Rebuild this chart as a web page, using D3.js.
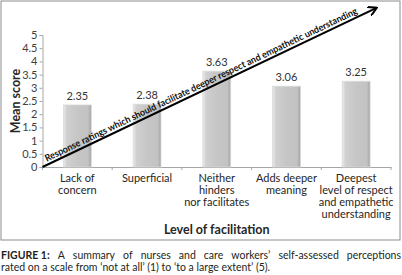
<!DOCTYPE html>
<html><head><meta charset="utf-8">
<script src="https://cdn.jsdelivr.net/npm/d3@7"></script>
<style>
html,body{margin:0;padding:0;background:#fff;}
svg{display:block;}
text{font-family:Lato,"Open Sans",sans-serif;}
</style></head>
<body><svg id="c" width="402" height="275"></svg>
<script>
const categories = [
  ["Lack of","concern"],
  ["Superficial"],
  ["Neither","hinders","nor facilitates"],
  ["Adds deeper","meaning"],
  ["Deepest","level of respect","and empathetic","understanding"]
];
const values = [2.35, 2.38, 3.63, 3.06, 3.25];
const valueLabels = ["2.35","2.38","3.63","3.06","3.25"];
const yTicks = [0,0.5,1,1.5,2,2.5,3,3.5,4,4.5,5];
const yTitle = "Mean score";
const xTitle = "Level of facilitation";
const arrowText = "Response ratings which should facilitate deeper respect and empathetic understanding";
const captionBold = "FIGURE 1:";
const captionLine1 = "A summary of nurses and care workers\u2019 self-assessed perceptions";
const captionLine2 = "rated on a scale from \u2018not at all\u2019 (1) to \u2018to a large extent\u2019 (5).";

const svg = d3.select("#c");
const L = 42.5, R = 391, T = 35, B = 167;

// border
svg.append("rect").attr("x",1).attr("y",1).attr("width",399).attr("height",239)
  .attr("fill","#fff").attr("stroke","#8c8c8c").attr("stroke-width",1);

const x = d3.scaleBand().domain(d3.range(values.length)).range([L,R]).paddingInner(0.6).paddingOuter(0.3);
const y = d3.scaleLinear().domain([0,5]).range([B,T]);

const defs = svg.append("defs");
const g = defs.append("linearGradient").attr("id","bar").attr("x1","0").attr("x2","1").attr("y1","0").attr("y2","0");
[["0%","#ececec"],["12%","#d0d0d0"],["50%","#c6c6c6"],["88%","#c3c3c3"],["100%","#a3a3a3"]]
  .forEach(s=>g.append("stop").attr("offset",s[0]).attr("stop-color",s[1]));

// y axis
const yAxis = svg.append("g").attr("transform",`translate(${L},0)`)
  .call(d3.axisLeft(y).tickValues(yTicks).tickSize(3).tickPadding(2).tickFormat(d3.format("")));
yAxis.select(".domain").attr("stroke","#a6a6a6");
yAxis.selectAll(".tick line").attr("stroke","#a6a6a6");
yAxis.selectAll("text").attr("font-size",11).attr("fill","#404040").attr("font-family","Lato,sans-serif");

// x axis baseline + boundary ticks
const xAxis = svg.append("g").attr("transform",`translate(0,${B})`)
  .call(d3.axisBottom(x).tickSize(0).tickFormat(""));
xAxis.select(".domain").attr("stroke","#a6a6a6");
d3.range(values.length+1).forEach(i=>{
  const bx = L + i*(R-L)/values.length;
  svg.append("line").attr("x1",bx).attr("x2",bx).attr("y1",B).attr("y2",B+3).attr("stroke","#a6a6a6");
});

// bars
svg.append("g").selectAll("rect").data(values).join("rect")
  .attr("x",(d,i)=>x(i)).attr("width",x.bandwidth())
  .attr("y",d=>y(d)).attr("height",d=>B-y(d))
  .attr("fill","url(#bar)").attr("stroke","#dadada").attr("stroke-width",0.8);

// value labels
svg.append("g").selectAll("text").data(values).join("text")
  .attr("x",(d,i)=>x(i)+x.bandwidth()/2).attr("y",d=>y(d)-5)
  .attr("text-anchor","middle").attr("font-size",11).attr("fill","#333")
  .text((d,i)=>valueLabels[i]);

// category labels
const cl = svg.append("g");
categories.forEach((lines,i)=>{
  const t = cl.append("text").attr("text-anchor","middle").attr("font-size",11).attr("fill","#262626");
  lines.forEach((ln,j)=>t.append("tspan").attr("x",x(i)+x.bandwidth()/2).attr("y",182+j*12).text(ln));
});

// axis titles
svg.append("text").attr("transform",`translate(19.5,${(T+B)/2}) rotate(-90)`)
  .attr("text-anchor","middle").attr("font-size",12.5).attr("font-weight","bold").attr("fill","#262626").text(yTitle);
svg.append("text").attr("x",(L+R)/2).attr("y",234).attr("text-anchor","middle")
  .attr("font-size",12.5).attr("font-weight","bold").attr("fill","#262626").text(xTitle);

// arrow (from origin up to beyond the top of the scale)
const x0 = L, y0 = y(0);
const x1 = 376, y1 = y(6.02);
defs.append("marker").attr("id","ah").attr("viewBox","0 0 10 10").attr("refX",8).attr("refY",5)
  .attr("markerWidth",5).attr("markerHeight",5).attr("orient","auto")
  .append("path").attr("d","M0,0 L9,5 L0,10").attr("fill","none").attr("stroke","#000").attr("stroke-width",2);
svg.append("line").attr("x1",x0).attr("y1",y0).attr("x2",x1).attr("y2",y1)
  .attr("stroke","#000").attr("stroke-width",2).attr("marker-end","url(#ah)");
const ang = Math.atan2(y1-y0,x1-x0)*180/Math.PI;
svg.append("text").attr("transform",`translate(${x0},${y0}) rotate(${ang})`)
  .attr("x",6).attr("y",-3).attr("font-size",9.5).attr("font-weight","bold").attr("fill","#111")
  .attr("textLength",345).attr("lengthAdjust","spacingAndGlyphs").text(arrowText);

// caption line 1 justified
const capFs = 10.5;
const words = [{t:captionBold,b:true}].concat(captionLine1.split(" ").map(w=>({t:w,b:false})));
const tmp = svg.append("g");
let total = 0;
words.forEach(w=>{
  const el = tmp.append("text").attr("font-size",capFs).attr("font-weight",w.b?"bold":"normal").text(w.t);
  w.w = el.node().getComputedTextLength(); total += w.w;
});
tmp.remove();
const gap = (401 - 1 - total)/(words.length-1);
let cx = 1;
const cap = svg.append("g").attr("fill","#231f20");
words.forEach(w=>{
  cap.append("text").attr("x",cx).attr("y",259).attr("font-size",capFs)
    .attr("font-weight",w.b?"bold":"normal").text(w.t);
  cx += w.w + gap;
});
cap.append("text").attr("x",1).attr("y",271).attr("font-size",capFs).text(captionLine2);
</script></body></html>
